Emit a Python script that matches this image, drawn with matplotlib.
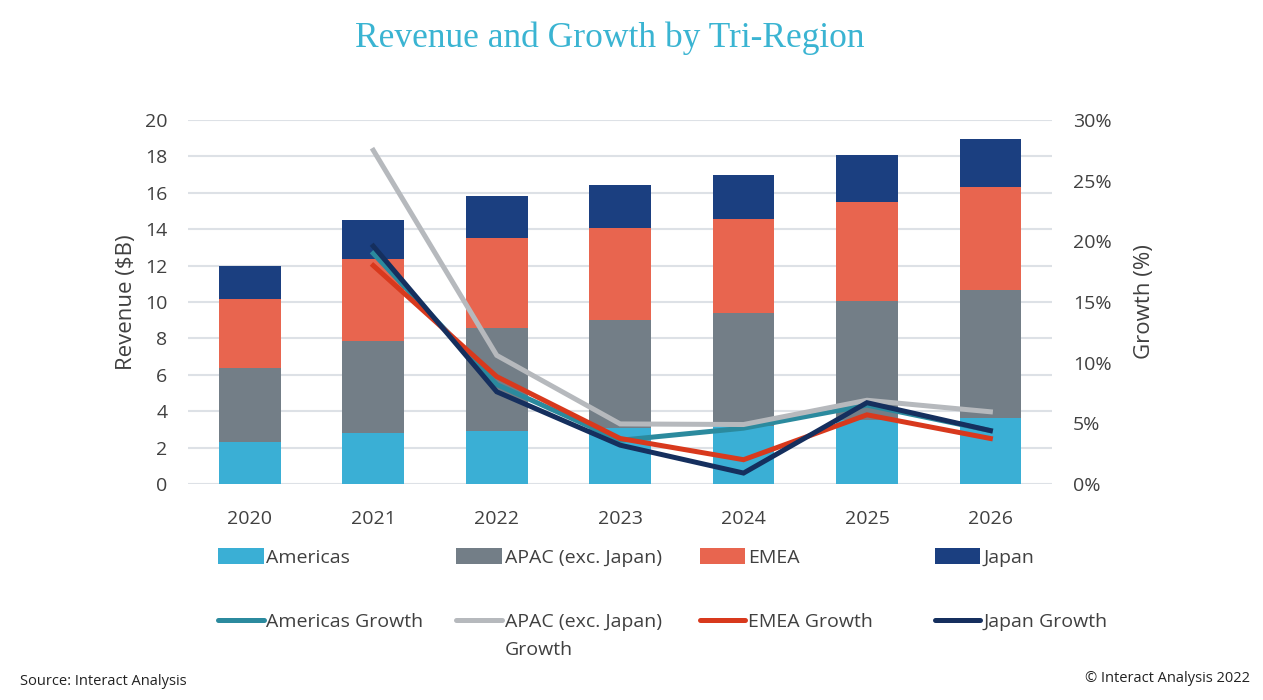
import numpy as np
import matplotlib
matplotlib.use("Agg")
import matplotlib.pyplot as plt
from matplotlib.patches import Patch
from matplotlib.lines import Line2D

years = ['2020', '2021', '2022', '2023', '2024', '2025', '2026']

# revenue ($B)
americas = [2.3, 2.78, 2.93, 3.1, 3.2, 3.5, 3.6]
apac = [4.05, 5.08, 5.66, 5.9, 6.18, 6.55, 7.04]
emea = [3.8, 4.49, 4.91, 5.06, 5.2, 5.43, 5.66]
japan = [1.8, 2.15, 2.32, 2.38, 2.4, 2.6, 2.66]

# growth (%), from 2021
growth_years = years[1:]
americas_growth = [19.0, 8.2, 3.6, 4.6, 6.5, 4.4]
apac_growth = [27.5, 10.6, 4.95, 4.9, 6.9, 5.95]
emea_growth = [18.0, 8.85, 3.75, 2.0, 5.7, 3.75]
japan_growth = [19.6, 7.6, 3.2, 0.9, 6.7, 4.4]

bar_colors = ['#3aafd5', '#737e87', '#e8654f', '#1b3f80']
line_colors = ['#2b8a9e', '#b6b9bd', '#d8391d', '#152f5e']

plt.rcParams['font.family'] = ['Open Sans', 'DejaVu Sans']
txt = '#404040'

fig = plt.figure(figsize=(12.63, 7), dpi=100)
ax = fig.add_axes([0.149, 0.3086, 0.684, 0.52])
ax2 = ax.twinx()

x = np.arange(len(years))
w = 0.5
bottom = np.zeros(len(years))
for vals, c in zip([americas, apac, emea, japan], bar_colors):
    ax.bar(x, vals, w, bottom=bottom, color=c, zorder=2)
    bottom += np.array(vals)

gx = x[1:]
for vals, c in zip([americas_growth, apac_growth, emea_growth, japan_growth], line_colors):
    ax2.plot(gx, vals, color=c, lw=3.6, solid_joinstyle='miter')

ax.set_xlim(-0.5, 6.5)
ax.set_ylim(0, 20)
ax.set_yticks(np.arange(0, 21, 2))
ax2.set_ylim(0, 30)
ax2.set_yticks(np.arange(0, 31, 5))
ax2.set_yticklabels([f'{v}%' for v in range(0, 31, 5)])
ax.set_xticks(x)
ax.set_xticklabels(years)
ax.grid(axis='y', color='#dde1e6', lw=1.5, zorder=0)
ax.set_axisbelow(True)
for a in (ax, ax2):
    for s in a.spines.values():
        s.set_visible(False)
    a.tick_params(length=0, labelsize=14, colors=txt)
ax.tick_params(axis='y', pad=15)
ax.tick_params(axis='x', pad=19)
ax2.tick_params(axis='y', pad=15)
ax.set_ylabel('Revenue ($B)', fontsize=16, color=txt, labelpad=6)
ax2.set_ylabel('Growth (%)', fontsize=16, color=txt, labelpad=16)

fig.text(0.483, 0.946, 'Revenue and Growth by Tri-Region', ha='center', va='center',
         fontsize=25.5, color='#3ab4d2', family='Liberation Serif')

# legend, one entry per slot
bar_names = ['Americas', 'APAC (exc. Japan)', 'EMEA', 'Japan']
line_names = ['Americas Growth', 'APAC (exc. Japan)', 'EMEA Growth', 'Japan Growth']
col_x = [0.1725, 0.361, 0.554, 0.74]
leg_kw = dict(frameon=False, fontsize=14, handlelength=2.35, handletextpad=0.15,
              borderpad=0, borderaxespad=0, loc='center left')
legends = []
for i in range(4):
    h = Patch(facecolor=bar_colors[i])
    legends.append(fig.legend([h], [bar_names[i]], bbox_to_anchor=(col_x[i], 0.204),
                              handleheight=0.9, **leg_kw))
    l = Line2D([], [], color=line_colors[i], lw=3.6, solid_capstyle='round')
    legends.append(fig.legend([l], [line_names[i]], bbox_to_anchor=(col_x[i], 0.112), **leg_kw))
# second line of the wrapped "APAC (exc. Japan) Growth" label
blank = Line2D([], [], color='none')
legends.append(fig.legend([blank], ['Growth'], bbox_to_anchor=(col_x[1], 0.071), **leg_kw))
for lg in legends:
    for t in lg.get_texts():
        t.set_color(txt)

fig.text(0.016, 0.026, 'Source: Interact Analysis', fontsize=10.5, color='#222222', va='center')
fig.text(0.99, 0.031, '\u00a9 Interact Analysis 2022', fontsize=10.5, color='#222222',
         va='center', ha='right')

fig.savefig('out.png', dpi=100, facecolor='white')
